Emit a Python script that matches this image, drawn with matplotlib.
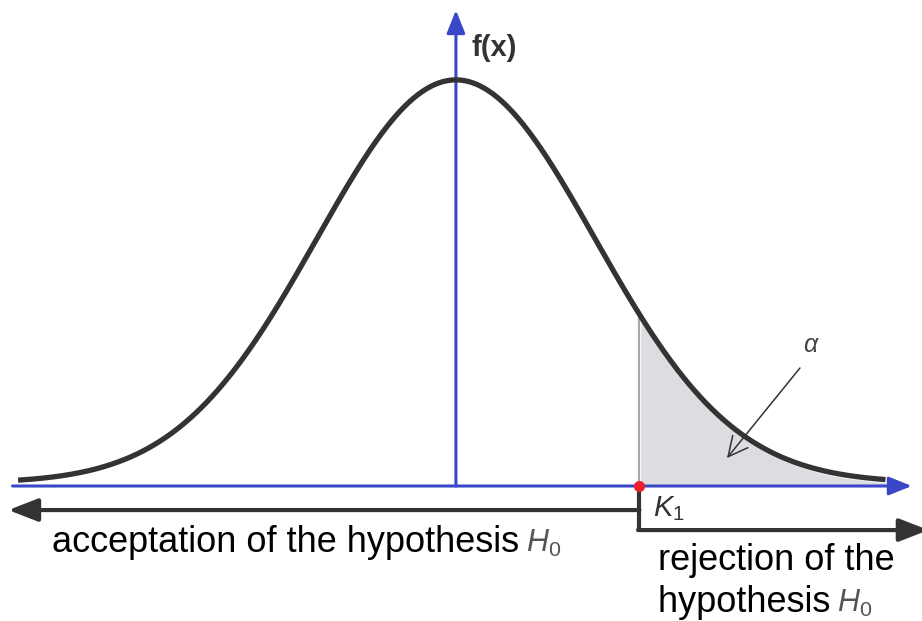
import numpy as np
import matplotlib
matplotlib.use("Agg")
import matplotlib.pyplot as plt

# ── data ──────────────────────────────────────────────────────────────────────
MU      = 0.0
SIGMA   = 1.0
K1      = 1.32          # critical value (in sigma units)
Z_RANGE = (-3.15, 3.09)  # extent of the drawn curve

LABEL_FX     = "f(x)"
LABEL_ALPHA  = r"$\alpha$"
LABEL_K1     = r"$K_1$"
LABEL_ACCEPT = "acceptation of the hypothesis "
LABEL_REJ1   = "rejection of the"
LABEL_REJ2   = "hypothesis "
LABEL_H0     = r"$H_0$"

# ── style ─────────────────────────────────────────────────────────────────────
plt.rcParams["font.family"] = ["Liberation Sans", "DejaVu Sans"]
plt.rcParams["mathtext.fontset"] = "custom"
plt.rcParams["mathtext.rm"] = "Liberation Sans"
plt.rcParams["mathtext.it"] = "Liberation Sans:italic"

BLUE  = "#3a48c8"
DARK  = "#333333"
SHADE = "#dcdde0"

def pdf(z):
    return np.exp(-0.5 * ((z - MU) / SIGMA) ** 2) / (SIGMA * np.sqrt(2 * np.pi))

fig = plt.figure(figsize=(9.22, 6.21), dpi=100)
ax = fig.add_axes([0, 0, 1, 1])
ax.set_xlim(-3.28, 3.353)
ax.set_ylim(-0.1336, 0.481)
ax.axis("off")

z = np.linspace(Z_RANGE[0], Z_RANGE[1], 600)
y = pdf(z)

# shaded rejection area
zt = z[z >= K1]
ax.fill_between(zt, 0, pdf(zt), color=SHADE, lw=0, zorder=1)
ax.plot([K1, K1], [0, pdf(K1)], color="#a8a8a8", lw=1.6, zorder=2)

# blue axes
blue_arrow = dict(arrowstyle="-|>,head_length=0.7,head_width=0.28",
                  color=BLUE, lw=2.2, mutation_scale=20, shrinkA=0, shrinkB=0)
ax.annotate("", xy=(3.28, 0), xytext=(-3.19, 0), arrowprops=blue_arrow,
            annotation_clip=False, zorder=3)
ax.annotate("", xy=(0, 0.471), xytext=(0, 0), arrowprops=blue_arrow,
            annotation_clip=False, zorder=3)

# the density curve
ax.plot(z, y + 0.003, color=DARK, lw=3.8, solid_capstyle="butt", zorder=4)

ax.text(0.115, 0.4336, LABEL_FX, fontsize=21, fontweight="bold", color=DARK,
        va="center", ha="left")

# alpha with arrow
ax.text(2.50, 0.1396, LABEL_ALPHA, fontsize=18, color="#444444",
        ha="left", va="center")
ax.annotate("", xy=(1.95, 0.0277), xytext=(2.475, 0.1168),
            arrowprops=dict(arrowstyle="->,head_length=0.7,head_width=0.35",
                            color=DARK, lw=1.1, mutation_scale=20,
                            shrinkA=0, shrinkB=0), zorder=5)

# critical point
ax.plot([K1], [0], "o", color="#e8202a", ms=8, mec="none", zorder=6)
ax.text(K1 + 0.1, -0.0225, LABEL_K1, fontsize=21, color=DARK,
        ha="left", va="center")

# acceptance / rejection arrows
bracket = dict(arrowstyle="-|>,head_length=0.9,head_width=0.35",
               color=DARK, lw=3, mutation_scale=20, shrinkA=0, shrinkB=0)
ax.plot([K1, K1], [0, -0.0436], color=DARK, lw=3, solid_capstyle="butt", zorder=5)
ax.annotate("", xy=(-3.22, -0.0238), xytext=(K1, -0.0238), arrowprops=bracket,
            annotation_clip=False)
ax.annotate("", xy=(3.40, -0.0436), xytext=(K1 - 0.01, -0.0436), arrowprops=bracket,
            annotation_clip=False)

# labels
t = ax.text(-2.906, -0.0653, LABEL_ACCEPT, fontsize=26, color="black",
            ha="left", va="baseline")
ax.text(1.453, -0.0832, LABEL_REJ1, fontsize=26, color="black",
        ha="left", va="baseline")
t2 = ax.text(1.453, -0.1248, LABEL_REJ2, fontsize=26, color="black",
             ha="left", va="baseline")

fig.canvas.draw()
inv = ax.transData.inverted()
for tt in (t, t2):
    bb = tt.get_window_extent()
    x_end = inv.transform((bb.x1, bb.y0))[0]
    _, yb = tt.get_position()
    ax.text(x_end - 0.02, yb, LABEL_H0, fontsize=22, color="#555555",
            ha="left", va="baseline")

fig.savefig("out.png", dpi=100)
